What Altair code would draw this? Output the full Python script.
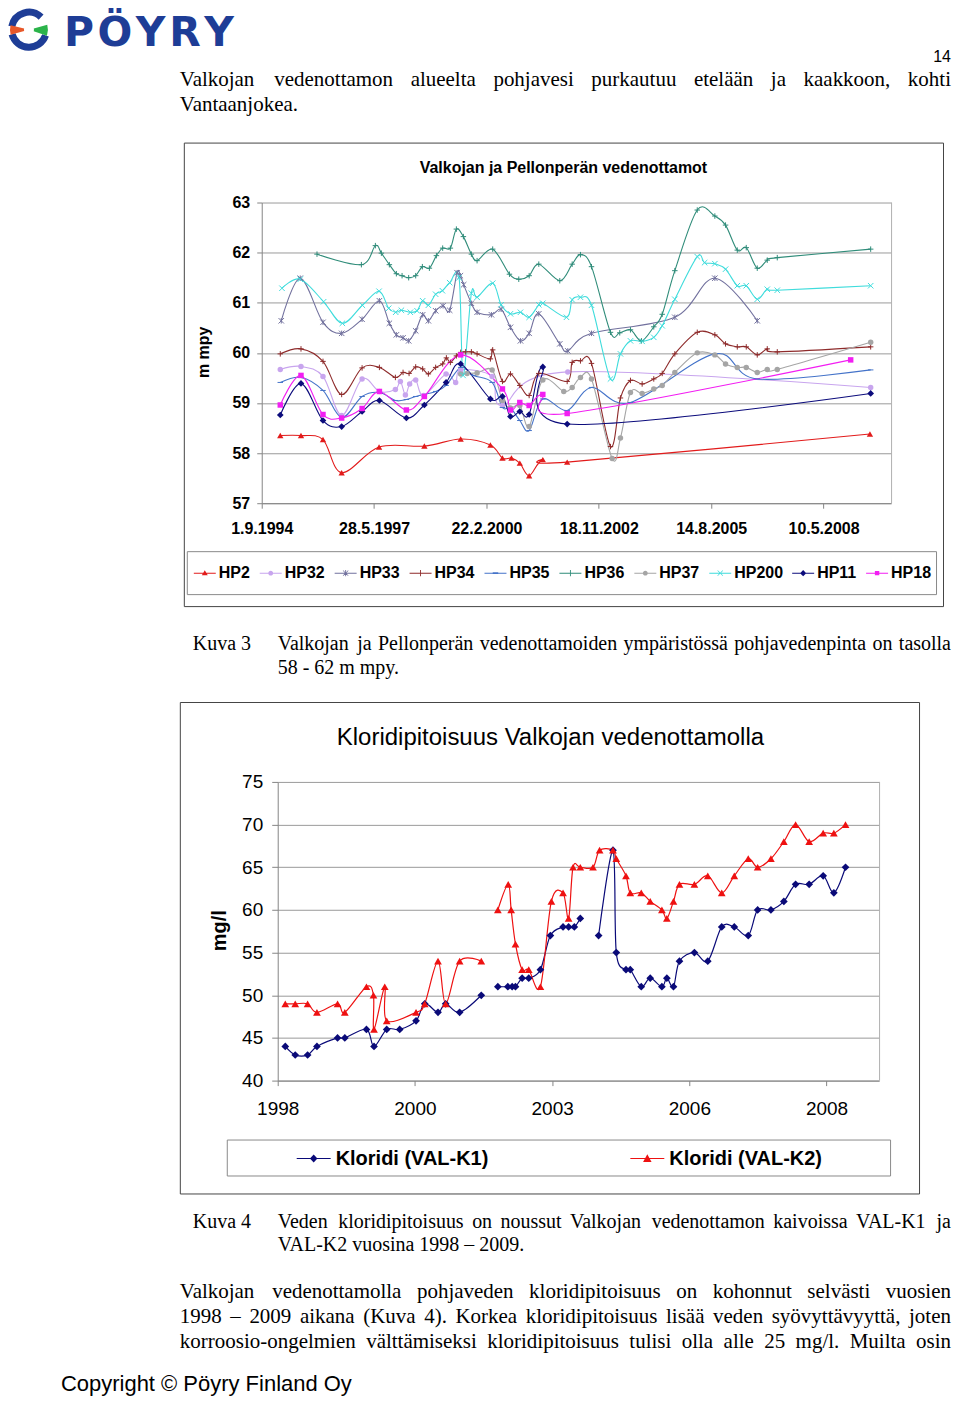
import altair as alt
import numpy as np
import pandas as pd

SERIF = "Liberation Serif"
SANS = "Liberation Sans"
AXC = "#858585"
GRIDC = "#9a9a9a"
BORDC = "#b0b0b0"

# ---------------- Kuva 3 : groundwater levels (m mpy), time as decimal years ----------------
names1 = ["HP2", "HP32", "HP33", "HP34", "HP35", "HP36", "HP37", "HP200", "HP11", "HP18"]
colors1 = ["#e21b1b", "#c8a5ee", "#72719e", "#8e2b2b", "#4473c9",
           "#2f8c79", "#a5a5a5", "#3fdcdc", "#0c0c7c", "#f21ef2"]

hp2_t = [1995.118, 1995.623, 1996.159, 1996.613, 1997.524, 1998.629, 1999.514, 2000.238,
         2000.531, 2000.750, 2000.953, 2001.181, 2001.514, 2002.108, 2009.485]
hp2_v = [58.35, 58.35, 58.27, 57.61, 58.12, 58.14, 58.28, 58.16, 57.90, 57.90, 57.80, 57.55,
         57.87, 57.82, 58.38]

hp32_t = [1995.118, 1995.623, 1996.159, 1996.613, 1997.110, 1997.532, 1997.922, 1998.044,
          1998.166, 1998.270, 1998.417, 1998.612, 1999.158, 1999.392, 1999.514, 2000.280,
          2000.531, 2002.123, 2009.503]
hp32_v = [59.67, 59.73, 59.53, 58.75, 59.48, 59.23, 59.27, 59.43, 59.16, 59.38, 59.46, 59.15,
          59.58, 59.41, 59.66, 59.53, 58.95, 59.62, 59.31]

hp33_t = [1995.142, 1995.605, 1996.159, 1996.613, 1997.110, 1997.532, 1997.775, 1997.946,
          1998.109, 1998.246, 1998.417, 1998.587, 1998.726, 1998.904, 1999.085, 1999.246,
          1999.426, 1999.507, 1999.587, 1999.775, 1999.914, 2000.263, 2000.499, 2000.726,
          2000.969, 2001.181, 2001.416, 2001.928, 2002.123, 2002.701, 2004.731, 2005.706,
          2006.740]
hp33_v = [60.64, 61.49, 60.61, 60.39, 60.67, 61.04, 60.59, 60.36, 60.30, 60.24, 60.44, 60.76,
          60.64, 60.84, 60.94, 60.85, 61.60, 61.54, 61.36, 60.99, 60.81, 60.76, 60.87, 60.51,
          60.24, 60.39, 60.78, 60.18, 60.04, 60.39, 60.71, 61.49, 60.64]

hp34_t = [1995.118, 1995.623, 1996.159, 1996.613, 1997.110, 1997.532, 1997.922, 1998.109,
          1998.256, 1998.417, 1998.587, 1998.726, 1998.904, 1999.075, 1999.165, 1999.263,
          1999.409, 1999.514, 1999.636, 1999.775, 1999.914, 2000.238, 2000.294, 2000.531,
          2000.726, 2000.953, 2001.181, 2001.416, 2002.108, 2002.230, 2002.432, 2002.701,
          2003.164, 2003.407, 2003.651, 2003.936, 2004.219, 2004.424, 2004.731, 2005.277,
          2005.706, 2005.967, 2006.253, 2006.472, 2006.740, 2006.984, 2007.228, 2009.503]
hp34_v = [59.98, 60.08, 59.83, 59.17, 59.70, 59.71, 59.51, 59.61, 59.59, 59.72, 59.68, 59.58,
          59.71, 59.78, 59.90, 59.81, 59.94, 60.01, 60.02, 60.02, 59.98, 59.88, 60.06, 59.43,
          59.58, 59.35, 59.15, 59.59, 59.43, 59.81, 59.84, 59.79, 58.13, 59.10, 59.45, 59.38,
          59.48, 59.59, 59.98, 60.41, 60.36, 60.18, 60.12, 60.12, 59.96, 60.08, 60.02, 60.12]

hp35_t = [1995.118, 1995.623, 1996.159, 1996.613, 1997.110, 1997.532, 1997.922, 1998.190,
          1998.417, 1998.904, 1999.158, 1999.514, 1999.831, 2000.280, 2000.531, 2000.726,
          2000.953, 2001.181, 2001.514, 2002.108, 2002.701, 2003.651, 2005.706, 2006.740,
          2009.503]
hp35_v = [59.41, 59.51, 59.25, 58.71, 59.13, 59.21, 59.05, 59.07, 59.13, 59.23, 59.35, 59.71,
          59.55, 59.41, 58.91, 58.90, 58.65, 58.45, 59.08, 58.85, 59.31, 59.01, 59.98, 59.48,
          59.66]

hp36_t = [1996.013, 1997.093, 1997.434, 1997.580, 1997.775, 1997.946, 1998.085, 1998.246,
          1998.417, 1998.580, 1998.751, 1998.922, 1999.075, 1999.263, 1999.409, 1999.580,
          1999.775, 1999.914, 2000.294, 2000.701, 2000.928, 2001.181, 2001.416, 2001.928,
          2002.230, 2002.432, 2002.701, 2003.164, 2003.390, 2003.651, 2003.919, 2004.219,
          2004.424, 2004.731, 2005.277, 2005.706, 2005.967, 2006.253, 2006.472, 2006.740,
          2006.984, 2007.228, 2009.503]
hp36_v = [61.97, 61.76, 62.14, 61.99, 61.76, 61.58, 61.54, 61.50, 61.54, 61.72, 61.69, 61.94,
          62.09, 62.09, 62.47, 62.32, 61.97, 61.84, 62.07, 61.57, 61.47, 61.54, 61.77, 61.44,
          61.77, 61.96, 61.72, 60.41, 60.40, 60.46, 60.24, 60.52, 60.77, 61.64, 62.85, 62.73,
          62.55, 62.05, 62.10, 61.69, 61.85, 61.90, 62.07]

hp37_t = [1999.514, 1999.670, 1999.914, 2000.280, 2000.531, 2000.726, 2000.953, 2001.181,
          2001.514, 2002.025, 2002.230, 2002.432, 2002.701, 2003.205, 2003.407, 2003.651,
          2003.936, 2004.219, 2004.424, 2004.731, 2005.277, 2005.706, 2005.967, 2006.253,
          2006.472, 2006.740, 2006.984, 2007.228, 2009.503]
hp37_v = [59.58, 59.59, 59.60, 59.66, 59.05, 58.90, 58.95, 58.53, 59.46, 59.23, 59.31, 59.51,
          59.48, 57.89, 58.30, 59.21, 59.19, 59.28, 59.35, 59.61, 60.00, 59.96, 59.78, 59.71,
          59.71, 59.61, 59.67, 59.67, 60.21]

hp200_t = [1995.159, 1995.605, 1996.174, 1996.630, 1997.117, 1997.524, 1997.758, 1997.929,
           1998.068, 1998.287, 1998.451, 1998.587, 1998.726, 1998.904, 1999.068, 1999.246,
           1999.475, 1999.573, 1999.775, 1999.914, 2000.294, 2000.499, 2000.726, 2000.969,
           2001.181, 2001.416, 2001.514, 2002.091, 2002.230, 2002.432, 2002.701, 2003.164,
           2003.407, 2003.651, 2003.936, 2004.219, 2004.424, 2004.731, 2005.277, 2005.456,
           2005.706, 2005.967, 2006.253, 2006.472, 2006.740, 2006.984, 2007.228, 2009.503]
hp200_v = [61.29, 61.47, 61.02, 60.59, 60.95, 61.23, 60.89, 60.81, 60.85, 60.81, 60.84, 61.04,
           60.95, 61.17, 61.24, 61.40, 61.50, 59.55, 61.19, 61.11, 61.39, 60.96, 60.78, 60.81,
           60.71, 60.96, 60.99, 60.71, 61.06, 61.11, 60.95, 59.48, 59.98, 60.24, 60.23, 60.31,
           60.54, 61.07, 61.92, 61.80, 61.78, 61.67, 61.34, 61.34, 61.07, 61.27, 61.25, 61.34]

hp11_t = [1995.118, 1995.623, 1996.159, 1996.613, 1997.110, 1997.532, 1998.190, 1998.629,
          1999.158, 1999.514, 2000.238, 2000.531, 2000.726, 2000.953, 2001.181, 2001.514,
          2002.108, 2009.503]
hp11_v = [58.76, 59.39, 58.65, 58.53, 58.83, 59.05, 58.70, 58.96, 59.41, 59.78, 59.08, 59.13,
          58.73, 58.83, 58.77, 59.72, 58.58, 59.19]

hp18_t = [1995.118, 1995.623, 1996.159, 1996.613, 1997.110, 1997.532, 1998.190, 1998.629,
          1999.514, 2000.531, 2000.726, 2000.953, 2001.181, 2001.514, 2002.108, 2009.015]
hp18_v = [58.96, 59.55, 58.77, 58.70, 58.89, 59.23, 58.86, 59.13, 59.96, 59.28, 58.86, 59.01,
          58.95, 59.17, 58.79, 59.86]

# ---------------- Kuva 4 : chloride (mg/l) ----------------
names2 = ["Kloridi (VAL-K1)", "Kloridi (VAL-K2)"]
colors2 = ["#0a0a78", "#ee1111"]

k1_t = [1998.151, 1998.350, 1998.597, 1998.783, 1999.195, 1999.340, 1999.772, 1999.923,
        2000.176, 2000.435, 2000.760, 2000.933, 2001.198, 2001.351, 2001.630, 2002.062,
        2002.393, 2002.592, 2002.679, 2002.745, 2002.878, 2003.010, 2003.243, 2003.442,
        2003.695, 2003.806, 2003.920, 2004.039, 2004.404, 2004.690, 2004.756, 2004.949,
        2005.035, 2005.254, 2005.433, 2005.666, 2005.765, 2005.897, 2006.017, 2006.315,
        2006.582, 2006.861, 2007.112, 2007.390, 2007.578, 2007.843, 2008.101, 2008.335,
        2008.605, 2008.884, 2009.097, 2009.330]
k1_v = [44, 43, 43, 44, 45, 45, 46, 44, 46, 46, 47, 49, 48, 49, 48, 50, 51, 51, 51, 51, 52, 52,
        53, 57, 58, 58, 58, 59, 57, 67, 55, 53, 53, 51, 52, 51, 52, 51, 54, 55, 54, 58, 58, 57,
        60, 60, 61, 63, 63, 64, 62, 65]
k1_breaks = [2002.2, 2004.2]

k2_t = [1998.151, 1998.350, 1998.597, 1998.783, 1999.195, 1999.340, 1999.772, 1999.912,
        1999.923, 2000.137, 2000.176, 2000.760, 2000.933, 2001.198, 2001.351, 2001.630,
        2002.062, 2002.393, 2002.600, 2002.659, 2002.745, 2002.878, 2003.010, 2003.243,
        2003.462, 2003.695, 2003.806, 2003.894, 2004.039, 2004.292, 2004.424, 2004.690,
        2004.756, 2004.949, 2005.035, 2005.254, 2005.433, 2005.666, 2005.765, 2005.897,
        2006.017, 2006.315, 2006.582, 2006.861, 2007.112, 2007.390, 2007.578, 2007.843,
        2008.101, 2008.335, 2008.605, 2008.884, 2009.097, 2009.330]
k2_v = [49, 49, 49, 48, 49, 48, 51, 50, 46, 51, 47, 48, 49, 54, 49, 54, 54, 60, 63, 60, 56, 53,
        53, 51, 61, 62, 59, 65, 65, 65, 67, 67, 66, 64, 62, 62, 61, 60, 59, 61, 63, 63, 64, 62,
        64, 66, 65, 66, 68, 70, 68, 69, 69, 70]
k2_breaks = [2002.2]

# ---------------- page texts ----------------
page_no = "14"
logo_text = "PÖYRY"
intro_lines = ["Valkojan vedenottamon alueelta pohjavesi purkautuu etelään ja kaakkoon, kohti",
               "Vantaanjokea."]
title1 = "Valkojan ja Pellonperän vedenottamot"
ytitle1 = "m mpy"
cap3_label = "Kuva 3"
cap3_lines = ["Valkojan ja Pellonperän vedenottamoiden ympäristössä pohjavedenpinta on tasolla",
              "58 - 62 m mpy."]
title2 = "Kloridipitoisuus Valkojan vedenottamolla"
ytitle2 = "mg/l"
cap4_label = "Kuva 4"
cap4_lines = ["Veden kloridipitoisuus on noussut Valkojan vedenottamon kaivoissa VAL-K1 ja",
              "VAL-K2 vuosina 1998 – 2009."]
body_lines = ["Valkojan vedenottamolla pohjaveden kloridipitoisuus on kohonnut selvästi vuosien",
              "1998 – 2009 aikana (Kuva 4). Korkea kloridipitoisuus lisää veden syövyttävyyttä, joten",
              "korroosio-ongelmien välttämiseksi kloridipitoisuus tulisi olla alle 25 mg/l. Muilta osin"]
copyright_text = "Copyright © Pöyry Finland Oy"

# ======================================================================
def to_ms(years):
    out = []
    for y in years:
        yi = int(np.floor(y))
        a = pd.Timestamp(year=yi, month=1, day=1)
        b = pd.Timestamp(year=yi + 1, month=1, day=1)
        out.append(int((a + (b - a) * (y - yi)).value // 1_000_000))
    return out


def dt(ts):
    return alt.DateTime(year=int(ts.year), month=int(ts.month), date=int(ts.day), utc=True)


# Times-compatible advance widths (per 1000 em) for justification
TW = {}
for chars, w in [("bdghknopquvxy0123456789ö–", 500), ("acezä", 444), ("ijlt/:", 278),
                 ("fr-()I", 333), ("sJ", 389), ("m", 778), ("wAKNOUVXYDGHÖÄ", 722),
                 (" .,", 250), ("PSF", 556), ("ELTZ", 611), ("BCR", 667), ("M", 889), ("W", 944)]:
    for c in chars:
        TW[c] = w

# approximate bold-sans advance widths for the logo lettering
LOGO_W = {"P": 700, "Ö": 812, "Y": 691, "R": 735}


def word_w(word, size):
    return sum(TW.get(c, 500) for c in word) * size / 1000.0


def justify(line, x0, x1, y, size):
    words = line.split(" ")
    widths = [word_w(w, size) for w in words]
    gap = (x1 - x0 - sum(widths)) / (len(words) - 1)
    rows, x = [], x0
    for w, wd in zip(words, widths):
        rows.append((w, x, y))
        x += wd + gap
    return rows


def spaced_letters(word, x0, y, size, gap):
    rows, x = [], x0
    for c in word:
        rows.append((c, x, y))
        x += LOGO_W.get(c, 700) * size / 1000.0 + gap
    return rows


def text_layer(rows, origin, **kw):
    ox, oy = origin
    df = pd.DataFrame({"txt": [r[0] for r in rows],
                       "px": [r[1] - ox for r in rows],
                       "py": [r[2] - oy for r in rows]})
    base = dict(baseline="middle", align="left", color="black")
    base.update(kw)
    return alt.Chart(df).mark_text(**base).encode(
        x=alt.X("px:Q", scale=None, axis=None),
        y=alt.Y("py:Q", scale=None, axis=None),
        text="txt:N")


def rect_layer(rects, origin, **kw):
    ox, oy = origin
    df = pd.DataFrame({"x1": [r[0] - ox + 0.5 for r in rects], "x2": [r[2] - ox + 0.5 for r in rects],
                       "y1": [r[1] - oy + 0.5 for r in rects], "y2": [r[3] - oy + 0.5 for r in rects]})
    return alt.Chart(df).mark_rect(**kw).encode(
        x=alt.X("x1:Q", scale=None, axis=None), x2="x2:Q",
        y=alt.Y("y1:Q", scale=None, axis=None), y2="y2:Q")


def rule_layer(lines, origin, **kw):
    ox, oy = origin
    df = pd.DataFrame({"x1": [r[0] - ox + 0.5 for r in lines], "x2": [r[2] - ox + 0.5 for r in lines],
                       "y1": [r[1] - oy for r in lines], "y2": [r[3] - oy for r in lines]})
    return alt.Chart(df).mark_rule(**kw).encode(
        x=alt.X("x1:Q", scale=None, axis=None), x2="x2:Q",
        y=alt.Y("y1:Q", scale=None, axis=None), y2="y2:Q")


dummy = pd.DataFrame({"a": [0]})

# marker paths
PLUS = "M-1,0H1M0,-1V1"
XM = "M-1,-1L1,1M-1,1L1,-1"
STAR = "M-1,-1L1,1M-1,1L1,-1M0,-1V1"
DASH = "M-1,0H1"

BAR = "M-1,-0.045H1V0.045H-1Z"
L_TRI = "M0,-0.27L0.27,0.2L-0.27,0.2Z"
L_CIRC = "M-0.22,0A0.22,0.22,0,1,1,0.22,0A0.22,0.22,0,1,1,-0.22,0Z"
L_X = "M-0.26,-0.22L-0.22,-0.26L0.26,0.22L0.22,0.26Z M0.22,-0.26L0.26,-0.22L-0.22,0.26L-0.26,0.22Z"
L_PLUS = "M-0.04,-0.28H0.04V0.28H-0.04Z"
L_STAR = L_X + " " + L_PLUS
L_DASH = "M-0.25,-0.07H0.25V0.07H-0.25Z"
L_DIAM = "M0,-0.28L0.28,0L0,0.28L-0.28,0Z"
L_SQ = "M-0.2,-0.2H0.2V0.2H-0.2Z"

style1 = {
    "HP2": ("triangle-up", True, 40, BAR + " " + L_TRI),
    "HP32": ("circle", True, 30, BAR + " " + L_CIRC),
    "HP33": (STAR, False, 30, BAR + " " + L_STAR),
    "HP34": (PLUS, False, 30, BAR + " " + L_PLUS),
    "HP35": (DASH, False, 30, BAR + " " + L_DASH),
    "HP36": (PLUS, False, 30, BAR + " " + L_PLUS),
    "HP37": ("circle", True, 30, BAR + " " + L_CIRC),
    "HP200": (XM, False, 30, BAR + " " + L_X),
    "HP11": ("diamond", True, 45, BAR + " " + L_DIAM),
    "HP18": ("square", True, 30, BAR + " " + L_SQ),
}
series1 = {"HP2": (hp2_t, hp2_v), "HP32": (hp32_t, hp32_v), "HP33": (hp33_t, hp33_v),
           "HP34": (hp34_t, hp34_v), "HP35": (hp35_t, hp35_v), "HP36": (hp36_t, hp36_v),
           "HP37": (hp37_t, hp37_v), "HP200": (hp200_t, hp200_v), "HP11": (hp11_t, hp11_v),
           "HP18": (hp18_t, hp18_v)}

# Both panels share the same view origin x (vconcat aligns the view origins);
# the upper plot starts 16 px further left, done with its x range and y-axis offset.
OX = 277
SHIFT1 = 16

# ======================= TOP PANEL (Kuva 3) =======================
O1 = (OX, 202)
W1, H1 = 891 - OX, 301
start1, end1 = pd.Timestamp("1994-09-01"), pd.Timestamp("2010-01-01")
ticks1 = [start1 + pd.Timedelta(days=1000 * k) for k in range(6)]

X1 = alt.X("t:T", title=None,
           scale=alt.Scale(type="utc", domain=[dt(start1), dt(end1)], range=[-SHIFT1, W1]),
           axis=alt.Axis(values=[dt(t) for t in ticks1], format="%-d.%-m.%Y", labelFont=SANS,
                         labelFontWeight="bold", labelFontSize=16, labelColor="black",
                         labelPadding=12, tickSize=5, tickColor=AXC, domainColor=AXC,
                         grid=False, labelOverlap=False, labelFlush=False))
Y1 = alt.Y("v:Q", title=None, scale=alt.Scale(domain=[57, 63], nice=False, zero=False),
           axis=alt.Axis(values=list(range(57, 64)), format="d", labelFont=SANS,
                         labelFontWeight="bold", labelFontSize=16, labelColor="black",
                         labelPadding=7, tickSize=5, tickColor=AXC, domainColor=AXC,
                         grid=True, gridColor=GRIDC, offset=SHIFT1))

top_layers = [
    rect_layer([(8, 8, 951, 689)], O1, fill="transparent"),
    rect_layer([(183, 142, 943, 606)], O1, fill="transparent", stroke="#444444", strokeWidth=1),
    rect_layer([(186, 551, 936, 594)], O1, fill="transparent", stroke="#8a8a8a", strokeWidth=1),
    rule_layer([(891, 202, 891, 503)], O1, color=BORDC, strokeWidth=1),
]
for name, col in zip(names1, colors1):
    t, v = series1[name]
    assert len(t) == len(v), name
    df = pd.DataFrame({"t": to_ms(t), "v": v})
    base = alt.Chart(df).encode(x=X1, y=Y1)
    top_layers.append(base.mark_line(interpolate="cardinal", color=col, strokeWidth=1.1))
for name, col in zip(names1, colors1):
    t, v = series1[name]
    shp, filled, size, _ = style1[name]
    df = pd.DataFrame({"t": to_ms(t), "v": v})
    base = alt.Chart(df).encode(x=X1, y=Y1)
    top_layers.append(base.mark_point(shape=shp, filled=filled, color=col, size=size,
                                      opacity=1, strokeWidth=1))

L1 = alt.Legend(orient="none", legendX=193 - OX, legendY=360, direction="horizontal", columns=10,
                title=None, labelFont=SANS, labelFontWeight="bold", labelFontSize=16,
                labelColor="black", symbolSize=484, symbolStrokeWidth=0, symbolOpacity=1,
                columnPadding=9, labelOffset=3, padding=0)
top_layers.append(
    alt.Chart(pd.DataFrame({"series": names1})).transform_filter("false")
    .mark_point(filled=True, opacity=1)
    .encode(color=alt.Color("series:N", scale=alt.Scale(domain=names1, range=colors1), legend=L1),
            shape=alt.Shape("series:N",
                            scale=alt.Scale(domain=names1, range=[style1[n][3] for n in names1]),
                            legend=L1)))

# logo
LOGO_BLUE = "#1e3d96"
for th, th2, r1, r2, c in [(4.9, 7.05, 14, 21, LOGO_BLUE), (1.9, 4.45, 14, 21, LOGO_BLUE),
                           (4.45, 4.95, 5, 19, "#e8582a"), (1.3, 1.9, 5, 19, "#2bb34a")]:
    top_layers.append(alt.Chart(dummy).mark_arc(color=c).encode(
        x=alt.value(28 - O1[0]), y=alt.value(29 - O1[1]),
        theta=alt.value(th), theta2=alt.value(th2),
        radius=alt.value(r2), radius2=alt.value(r1)))

top_layers += [
    text_layer(spaced_letters(logo_text, 63, 33, 41, 5), O1, font="DejaVu Sans",
               fontWeight="bold", fontSize=41, color=LOGO_BLUE),
    text_layer([(page_no, 951, 56)], O1, font=SANS, fontSize=16, align="right"),
    text_layer(justify(intro_lines[0], 179, 951, 79, 21) + [(intro_lines[1], 179, 104)], O1,
               font=SERIF, fontSize=21),
    text_layer([(title1, 563, 167)], O1, font=SANS, fontWeight="bold", fontSize=16, align="center"),
    text_layer([(ytitle1, 203, 352)], O1, font=SANS, fontWeight="bold", fontSize=16,
               align="center", angle=270),
    text_layer([(cap3_label, 192, 644)] + justify(cap3_lines[0], 277, 951, 644, 20)
               + [(cap3_lines[1], 277, 668)], O1, font=SERIF, fontSize=20),
]
top = alt.layer(*top_layers).properties(width=W1, height=H1)

# ======================= BOTTOM PANEL (Kuva 4) =======================
O2 = (OX, 781)
W2, H2 = 602, 299
start2, end2 = pd.Timestamp("1998-01-01"), pd.Timestamp("2010-01-01")
ticks2 = [start2 + pd.Timedelta(days=1000 * k) for k in range(5)]

X2 = alt.X("t:T", title=None,
           scale=alt.Scale(type="utc", domain=[dt(start2), dt(end2)]),
           axis=alt.Axis(values=[dt(t) for t in ticks2], format="%Y", labelFont=SANS,
                         labelFontSize=19, labelColor="black", labelPadding=14, tickSize=5,
                         tickColor=AXC, domainColor=AXC, grid=False, labelOverlap=False,
                         labelFlush=False))
Y2 = alt.Y("v:Q", title=None, scale=alt.Scale(domain=[40, 75], nice=False, zero=False),
           axis=alt.Axis(values=list(range(40, 80, 5)), format="d", labelFont=SANS,
                         labelFontSize=19, labelColor="black", labelPadding=9, tickSize=6,
                         tickColor=AXC, domainColor=AXC, grid=True, gridColor=GRIDC))

bottom_layers = [
    rect_layer([(8, 689, 951, 1396)], O2, fill="transparent"),
    rect_layer([(179, 701, 919, 1193)], O2, fill="transparent", stroke="#444444", strokeWidth=1),
    rect_layer([(226, 1139, 890, 1175)], O2, fill="transparent", stroke="#8a8a8a", strokeWidth=1),
    rule_layer([(879, 781, 879, 1080)], O2, color=BORDC, strokeWidth=1),
]
series2 = [(k1_t, k1_v, k1_breaks, "diamond"), (k2_t, k2_v, k2_breaks, "triangle-up")]
for (t, v, brk, shp), col in zip(series2, colors2):
    assert len(t) == len(v)
    seg = [int(np.sum(np.array(brk) < x)) for x in t]
    df = pd.DataFrame({"t": to_ms(t), "v": v, "seg": seg})
    base = alt.Chart(df).encode(x=X2, y=Y2)
    bottom_layers.append(base.mark_line(interpolate="cardinal", color=col, strokeWidth=1.2)
                         .encode(detail="seg:N"))
for (t, v, brk, shp), col in zip(series2, colors2):
    df = pd.DataFrame({"t": to_ms(t), "v": v})
    base = alt.Chart(df).encode(x=X2, y=Y2)
    bottom_layers.append(base.mark_point(shape=shp, filled=True, color=col, size=60, opacity=1))

BAR2 = "M-1,-0.035H1V0.035H-1Z"
leg_paths2 = [BAR2 + " M0,-0.24L0.22,0L0,0.24L-0.22,0Z", BAR2 + " M0,-0.25L0.25,0.2L-0.25,0.2Z"]
L2 = alt.Legend(orient="none", legendX=296 - OX, legendY=360, direction="horizontal", columns=2,
                title=None, labelFont=SANS, labelFontWeight="bold", labelFontSize=20,
                labelColor="black", symbolSize=1156, symbolStrokeWidth=0, symbolOpacity=1,
                columnPadding=142, labelOffset=5, padding=0)
bottom_layers.append(
    alt.Chart(pd.DataFrame({"series": names2})).transform_filter("false")
    .mark_point(filled=True, opacity=1)
    .encode(color=alt.Color("series:N", scale=alt.Scale(domain=names2, range=colors2), legend=L2),
            shape=alt.Shape("series:N", scale=alt.Scale(domain=names2, range=leg_paths2),
                            legend=L2)))

bottom_layers += [
    text_layer([(title2, 550, 737)], O2, font=SANS, fontSize=24, align="center"),
    text_layer([(ytitle2, 219, 930)], O2, font=SANS, fontWeight="bold", fontSize=20,
               align="center", angle=270),
    text_layer([(cap4_label, 192, 1222)] + justify(cap4_lines[0], 277, 951, 1222, 20)
               + [(cap4_lines[1], 277, 1245)], O2, font=SERIF, fontSize=20),
    text_layer(justify(body_lines[0], 179, 951, 1292, 21) + justify(body_lines[1], 179, 951, 1317, 21)
               + justify(body_lines[2], 179, 951, 1342, 21), O2, font=SERIF, fontSize=21),
    text_layer([(copyright_text, 60, 1384)], O2, font=SANS, fontSize=22),
]
bottom = alt.layer(*bottom_layers).properties(width=W2, height=H2)

chart = (
    alt.vconcat(top, bottom, spacing=0, padding=0, background="white")
    .resolve_scale(color="independent", shape="independent")
    .configure(font=SANS)
    .configure_view(strokeWidth=0)
)

chart.save("out.html", embed_options={"renderer": "svg", "actions": False})
